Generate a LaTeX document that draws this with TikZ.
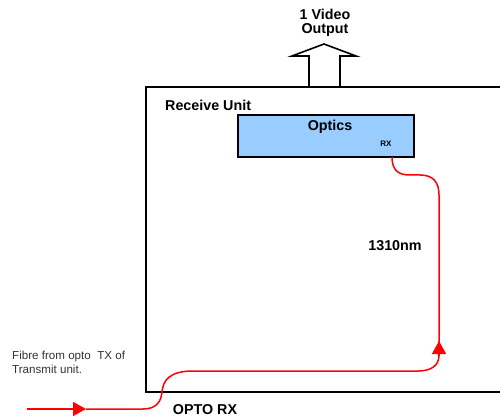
\documentclass[tikz,border=0pt]{standalone}
\usepackage{fontspec}
\setmainfont{Liberation Sans}
\usetikzlibrary{arrows.meta}
\definecolor{opticsblue}{HTML}{99CCFF}
\definecolor{fibrered}{HTML}{FF0000}
\tikzset{
  boldlbl/.style={font=\fontsize{14.3}{16}\selectfont\bfseries, inner sep=0pt},
  smalllbl/.style={font=\fontsize{11.6}{14}\selectfont, text=black!80, inner sep=0pt, align=left},
  unitline/.style={line width=1.6pt, black},
  fibre/.style={line width=1.5pt, fibrered},
  tipred/.style={-{Triangle[length=13pt,width=14pt]}, fibre},
}
\begin{document}
\begin{tikzpicture}[x=1pt,y=-1pt]
\useasboundingbox (0,0) rectangle (500,419);
% receive unit box (right side open)
\draw[unitline] (500,87) -- (146,87) -- (146,392) -- (500,392);
\node[boldlbl, anchor=west] (ru) at (165,105) {Receive Unit};
% output arrow
\draw[line width=1.6pt, fill=white] (309,87) -- (309,56) -- (292,56) -- (324,44) -- (356,56) -- (340,56) -- (340,87) -- cycle;
\node[boldlbl] (vid) at (325,14) {1 Video};
\node[boldlbl] (out) at (325,30) {Output};
% optics
\node[draw, line width=1.4pt, fill=opticsblue, minimum width=176pt, minimum height=42pt, inner sep=0pt] (optics) at (326,136) {};
\node[boldlbl] (optlbl) at (330,127) {Optics};
\node[font=\fontsize{8}{9}\selectfont\bfseries, inner sep=0pt] (rx) at (386,144) {RX};
\node[boldlbl] (nm) at (395,246) {1310nm};
\node[boldlbl] (opto) at (205,410) {OPTO RX};
\node[smalllbl, anchor=north west] (fib) at (12,351) {Fibre from opto\ \ TX of\\Transmit unit.};
% fibre
\coordinate (f0) at (27,409);
\coordinate (a1) at (86,409);
\coordinate (a2) at (439,341);
\coordinate (rxin) at (392,157);
\draw[tipred] (f0) -- (a1);
\draw[fibre] (a1) -- (143,409) .. controls (155,409) and (161,403) .. (162,392)
  .. controls (163,380) and (170,371) .. (193,371) -- (418,371)
  .. controls (432,371) and (439,365) .. (439,355) -- (a2);
\draw[tipred] (439,356) -- (a2);
\draw[fibre] (a2) -- (439,195) .. controls (439,182) and (433,175) .. (420,175)
  -- (410,175) .. controls (398,175) and (392,170) .. (rxin);
\end{tikzpicture}
\end{document}
